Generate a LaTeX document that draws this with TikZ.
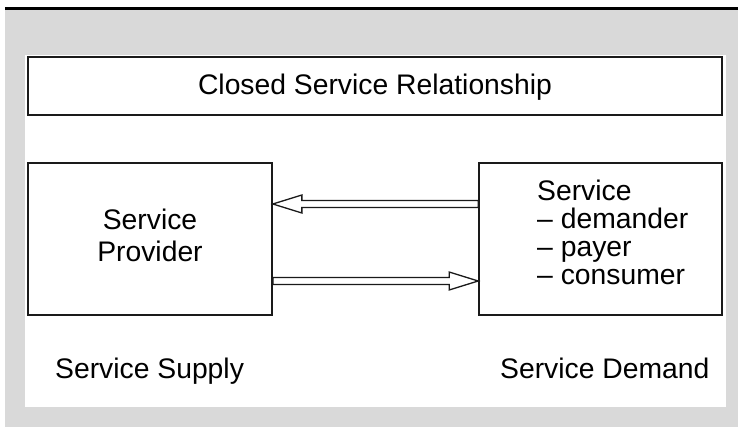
\documentclass[tikz,border=0pt]{standalone}
\usepackage{fontspec}
\setmainfont{Liberation Sans}
\usetikzlibrary{calc}
\definecolor{panelgray}{HTML}{D9D9D9}
\definecolor{inkline}{HTML}{1A1A1A}
\tikzset{
  box/.style={draw=inkline, line width=1.7pt, fill=white, inner sep=0pt},
  label/.style={inner sep=0pt, text=black, font=\fontsize{28.3}{29}\selectfont},
  arr/.style={draw=inkline, line width=1.3pt, fill=white, line join=miter}
}
\begin{document}
\begin{tikzpicture}[x=1pt,y=-1pt]
  \useasboundingbox (0,0) rectangle (738,427);
  % backdrop: gray field with a black rule on top and the white panel
  \fill[white] (0,0) rectangle (738,427);
  \fill[panelgray] (5,10) rectangle (738,427);
  \fill[black] (5,7) rectangle (738,10);
  \fill[white] (25,55) rectangle (726,407);

  % boxes
  \node[box, minimum width=694pt, minimum height=58pt] (title) at (375,86) {};
  \node[box, minimum width=244pt, minimum height=152pt] (prov) at (150,239) {};
  \node[box, minimum width=243pt, minimum height=152pt] (dem) at (600.5,239) {};

  % texts
  \node[label, anchor=base] (titletext) at (375,95) {Closed Service Relationship};
  \node[label, anchor=base] (provtext1) at (150,230) {Service};
  \node[label, anchor=base] (provtext2) at (150,262) {Provider};
  \node[label, anchor=base west] (demtext1) at (537,201) {Service};
  \node[label, anchor=base west] (demtext2) at (537,229) {– demander};
  \node[label, anchor=base west] (demtext3) at (537,257) {– payer};
  \node[label, anchor=base west] (demtext4) at (537,285) {– consumer};
  \node[label, anchor=base west] (supply) at (55,378) {Service Supply};
  \node[label, anchor=base west] (demand) at (500,378) {Service Demand};

  % hollow double arrows between the two boxes
  \coordinate (upL) at ([yshift=35pt]prov.east);
  \coordinate (upR) at ([yshift=35pt]dem.west);
  \coordinate (upB) at ([xshift=29pt]upL);
  \draw[arr] (upL) -- ([yshift=9pt]upB) -- ([yshift=3.5pt]upB) -- ([yshift=3.5pt]upR)
    -- ([yshift=-3.5pt]upR) -- ([yshift=-3.5pt]upB) -- ([yshift=-9pt]upB) -- cycle;

  \coordinate (loL) at ([yshift=-42pt]prov.east);
  \coordinate (loR) at ([yshift=-42pt]dem.west);
  \coordinate (loB) at ([xshift=-29pt]loR);
  \draw[arr] (loR) -- ([yshift=9pt]loB) -- ([yshift=3.5pt]loB) -- ([yshift=3.5pt]loL)
    -- ([yshift=-3.5pt]loL) -- ([yshift=-3.5pt]loB) -- ([yshift=-9pt]loB) -- cycle;
\end{tikzpicture}
\end{document}
